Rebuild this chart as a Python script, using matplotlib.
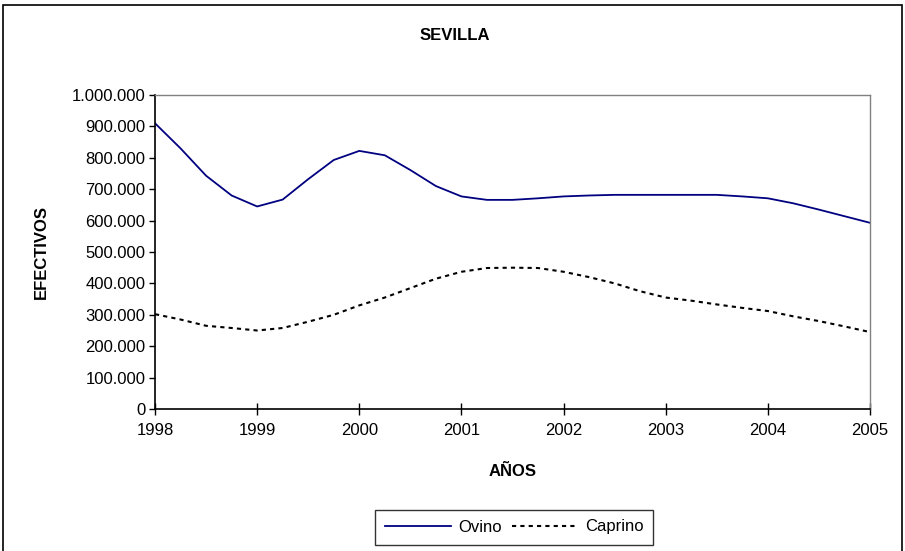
import matplotlib
matplotlib.use("Agg")
import matplotlib.pyplot as plt
from matplotlib.patches import Rectangle
from matplotlib.ticker import FuncFormatter

plt.rcParams['font.family'] = ['Liberation Sans', 'DejaVu Sans']

# quarterly readings taken from the chart (1998.0 ... 2005.0)
periodos = [1998 + i * 0.25 for i in range(29)]
ovino = [910000, 830000, 743000, 680000, 645000, 667000, 732000, 793000,
         822000, 808000, 761000, 710000, 677000, 666000, 666000, 671000,
         677000, 680000, 682000, 682000, 682000, 682000, 682000, 677000,
         671000, 655000, 635000, 614000, 593000]
caprino = [302000, 285000, 265000, 258000, 250000, 258000, 278000, 300000,
           330000, 355000, 385000, 415000, 437000, 449000, 450000, 449000,
           437000, 420000, 400000, 375000, 355000, 345000, 333000, 322000,
           312000, 295000, 280000, 263000, 245000]
anios = [1998, 1999, 2000, 2001, 2002, 2003, 2004, 2005]

fig = plt.figure(figsize=(9.05, 5.51), dpi=100)
ax = fig.add_axes([155 / 905, 142 / 551, 715 / 905, 314 / 551])

ax.plot(periodos, ovino, color='#000080', lw=1.3, label='Ovino')
ax.plot(periodos, caprino, color='black', lw=1.5, linestyle=(0, (2, 2)),
        label='Caprino')

ax.set_xlim(1998, 2005)
ax.set_ylim(0, 1000000)
ax.set_xticks(anios)
ax.set_xticklabels([str(a) for a in anios])
ax.set_yticks(range(0, 1000001, 100000))
ax.yaxis.set_major_formatter(FuncFormatter(lambda v, p: f"{int(v):,}".replace(",", ".")))
ax.tick_params(axis='both', labelsize=12, colors='black')
ax.tick_params(axis='x', direction='inout', length=8, width=1, pad=6)
ax.tick_params(axis='y', direction='out', length=4, width=1, pad=3)

for s in ['top', 'right']:
    ax.spines[s].set_color('#808080')
    ax.spines[s].set_linewidth(1)
for s in ['left', 'bottom']:
    ax.spines[s].set_color('black')
    ax.spines[s].set_linewidth(1.2)

ax.set_xlabel('AÑOS', fontsize=12, fontweight='bold', labelpad=19)
ax.set_ylabel('EFECTIVOS', fontsize=12, fontweight='bold', labelpad=16)
fig.text(455 / 905, 1 - 35 / 551, 'SEVILLA', fontsize=12, fontweight='bold',
         ha='center', va='center')

leg = fig.legend(loc='center', bbox_to_anchor=(514 / 905, 1 - 527 / 551), ncol=2,
                 fontsize=12, frameon=True, fancybox=False, edgecolor='black',
                 handlelength=4, columnspacing=0.6, handletextpad=0.4,
                 borderpad=0.6)
leg.get_frame().set_linewidth(1)

fig.patches.append(Rectangle((3 / 905, -0.01), 899 / 905, 1 - 5 / 551 + 0.01,
                             transform=fig.transFigure, fill=False,
                             edgecolor='black', lw=1.2))

fig.savefig('out.png', dpi=100)
